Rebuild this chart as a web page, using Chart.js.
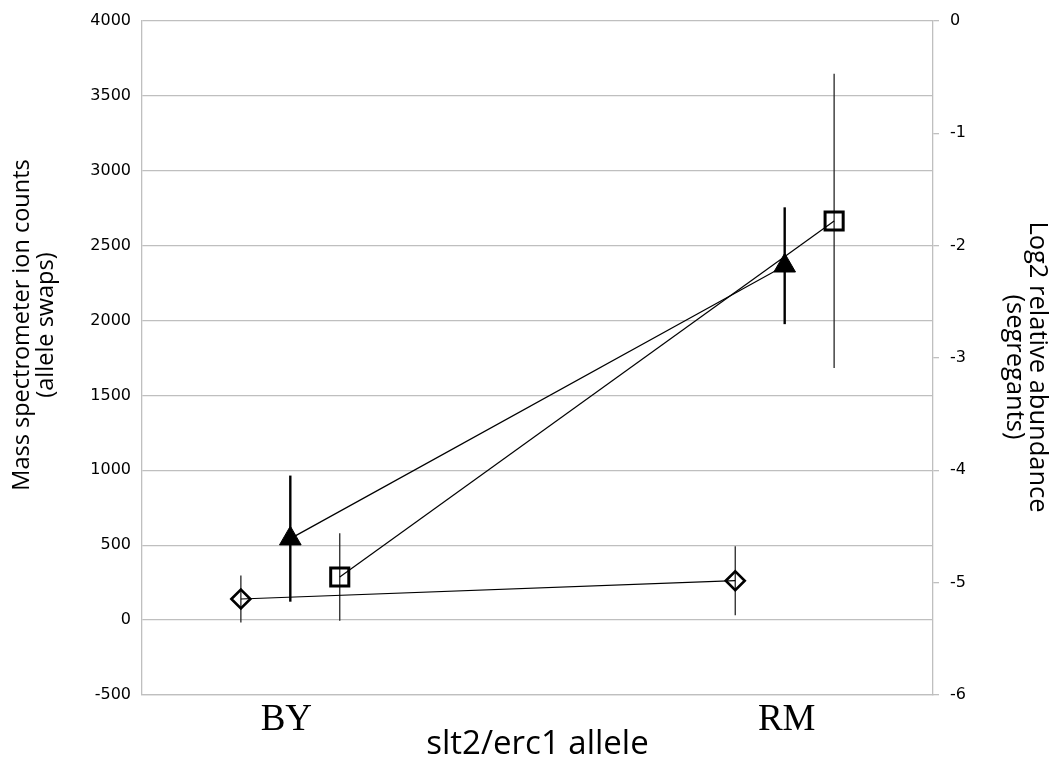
<!DOCTYPE html>
<html>
<head>
<meta charset="utf-8">
<script src="https://cdn.jsdelivr.net/npm/chart.js@4/dist/chart.umd.min.js"></script>
<style>
  html, body { margin: 0; padding: 0; background: #ffffff; }
  #wrap { width: 1059px; height: 762px; }
</style>
</head>
<body>
<div id="wrap"><canvas id="c" width="1059" height="762"></canvas></div>
<script>
// Allele categories and where their labels sit on the horizontal axis
const alleles = ['BY', 'RM'];
const alleleLabelPos = [0.73, 3.26];

// Horizontal positions of each series within the two allele groups
const diamondX = [0.5, 3.0];
const triangleX = [0.75, 3.25];
const squareX = [1.0, 3.5];

// Allele swap ion counts (left axis)
const diamondCounts = [141, 263];
const diamondErr = [157, 230];
const triangleCounts = [544, 2366];
const triangleErr = [421, 390];

// Segregant log2 relative abundance (right axis)
const squareLog2 = [-4.95, -1.78];
const squareErr = [0.39, 1.31];

// Axis ranges and tick spacing
const countsMin = -500, countsMax = 4000, countsStep = 500;
const log2Min = -6, log2Max = 0, log2Step = 1;

// Axis titles
const leftTitle = ['Mass spectrometer ion counts', '(allele swaps)'];
const rightTitle = ['Log2 relative abundance', '(segregants)'];
const bottomTitle = 'slt2/erc1 allele';

const GRID = '#bfbfbf';
const tickFont = { family: 'DejaVu Sans', size: 16 };

function points(xs, ys) {
  return xs.map((x, i) => ({ x: x, y: ys[i] }));
}

// Vertical error bars drawn underneath the markers
const errorBars = {
  id: 'errorBars',
  beforeDatasetsDraw(chart) {
    const ctx = chart.ctx;
    chart.data.datasets.forEach((ds, di) => {
      if (!ds.errors) return;
      const meta = chart.getDatasetMeta(di);
      const yScale = chart.scales[ds.yAxisID];
      ctx.save();
      ctx.strokeStyle = ds.errorColor;
      ctx.lineWidth = ds.errorWidth;
      meta.data.forEach((pt, i) => {
        const v = ds.data[i].y;
        const e = ds.errors[i];
        ctx.beginPath();
        ctx.moveTo(pt.x, yScale.getPixelForValue(v + e));
        ctx.lineTo(pt.x, yScale.getPixelForValue(v - e));
        ctx.stroke();
      });
      ctx.restore();
    });
  }
};

// Rotated two-line titles beside the vertical axes
const sideTitles = {
  id: 'sideTitles',
  afterDraw(chart, args, opts) {
    const ctx = chart.ctx;
    opts.items.forEach(item => {
      ctx.save();
      ctx.fillStyle = '#000000';
      ctx.font = item.size + 'px "Open Sans"';
      ctx.textAlign = 'center';
      ctx.textBaseline = 'middle';
      item.lines.forEach((line, i) => {
        ctx.save();
        ctx.translate(item.x + i * item.step, item.y);
        ctx.rotate(item.rotation);
        ctx.fillText(line, 0, 0);
        ctx.restore();
      });
      ctx.restore();
    });
  }
};

new Chart(document.getElementById('c'), {
  type: 'line',
  data: {
    datasets: [
      {
        label: 'Allele swap A',
        data: points(diamondX, diamondCounts),
        errors: diamondErr,
        errorColor: '#262626',
        errorWidth: 1.3,
        yAxisID: 'y',
        borderColor: '#000000',
        borderWidth: 1.2,
        pointStyle: 'rectRot',
        pointRadius: 9.5,
        pointBorderWidth: 2.6,
        pointBorderColor: '#000000',
        pointBackgroundColor: 'rgba(0,0,0,0)',
        tension: 0
      },
      {
        label: 'Allele swap B',
        data: points(triangleX, triangleCounts),
        errors: triangleErr,
        errorColor: '#000000',
        errorWidth: 2.4,
        yAxisID: 'y',
        borderColor: '#000000',
        borderWidth: 1.2,
        pointStyle: 'triangle',
        pointRadius: 12.5,
        pointBorderWidth: 1,
        pointBorderColor: '#000000',
        pointBackgroundColor: '#000000',
        tension: 0
      },
      {
        label: 'Segregants',
        data: points(squareX, squareLog2),
        errors: squareErr,
        errorColor: '#262626',
        errorWidth: 1.3,
        yAxisID: 'yR',
        borderColor: '#000000',
        borderWidth: 1.2,
        pointStyle: 'rect',
        pointRadius: 12.8,
        pointBorderWidth: 3,
        pointBorderColor: '#000000',
        pointBackgroundColor: 'rgba(0,0,0,0)',
        tension: 0
      }
    ]
  },
  options: {
    responsive: false,
    devicePixelRatio: 1,
    animation: false,
    layout: { padding: { top: 21, left: 0, right: 0, bottom: 0 } },
    plugins: {
      legend: { display: false },
      tooltip: { enabled: false },
      sideTitles: {
        items: [
          { lines: leftTitle, x: 22, step: 24, y: 325, size: 23.5, rotation: -Math.PI / 2 },
          { lines: rightTitle, x: 1037, step: -23, y: 367, size: 25.5, rotation: Math.PI / 2 }
        ]
      }
    },
    scales: {
      x: {
        type: 'linear',
        position: 'bottom',
        min: 0,
        max: 4,
        afterBuildTicks(axis) {
          axis.ticks = alleleLabelPos.map(v => ({ value: v }));
        },
        afterFit(axis) { axis.height = 67; },
        grid: { display: false, drawTicks: false, tickLength: 0 },
        border: { display: true, color: GRID, width: 1.3 },
        ticks: {
          autoSkip: false,
          maxRotation: 0,
          padding: 3,
          color: '#000000',
          font: { family: 'Liberation Serif', size: 37 },
          callback: (value, index) => alleles[index]
        },
        title: {
          display: true,
          text: bottomTitle,
          color: '#000000',
          font: { family: 'Open Sans', size: 33, lineHeight: 1.0 },
          padding: { top: 0, bottom: 1 }
        }
      },
      y: {
        position: 'left',
        min: countsMin,
        max: countsMax,
        afterFit(axis) { axis.width = 142; },
        grid: { color: GRID, lineWidth: 1.3, drawTicks: false, tickLength: 0 },
        border: { display: true, color: GRID, width: 1.3 },
        ticks: {
          stepSize: countsStep,
          padding: 11,
          color: '#000000',
          font: tickFont,
          callback: value => String(value)
        },
        title: { display: false }
      },
      yR: {
        position: 'right',
        min: log2Min,
        max: log2Max,
        afterFit(axis) { axis.width = 126; },
        grid: { drawOnChartArea: false, color: GRID, lineWidth: 1.3, drawTicks: true, tickLength: 6 },
        border: { display: true, color: GRID, width: 1.3 },
        ticks: {
          stepSize: log2Step,
          padding: 11,
          color: '#000000',
          font: tickFont,
          callback: value => String(value)
        },
        title: { display: false }
      }
    }
  },
  plugins: [errorBars, sideTitles]
});
</script>
</body>
</html>
